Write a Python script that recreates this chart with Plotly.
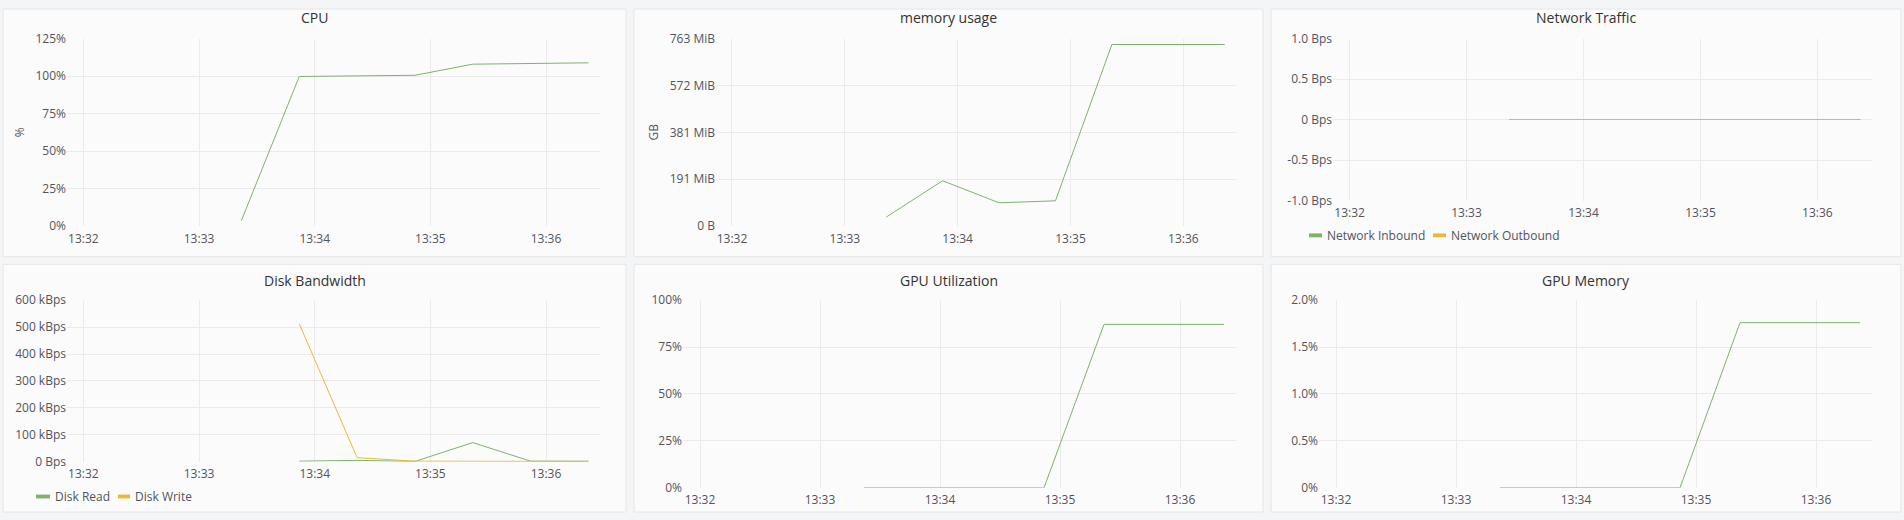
import plotly.graph_objects as go

W, H = 1904, 520
DAY = "2024-01-01 "

# ---------------- data ----------------
times = ["13:33:22", "13:33:52", "13:34:22", "13:34:52", "13:35:22", "13:35:52", "13:36:22"]
disk_times = ["13:33:52", "13:34:22", "13:34:52", "13:35:22", "13:35:52", "13:36:22"]

cpu_pct = [3.8, 99.7, 100.1, 100.5, 107.9, 108.5, 108.8]
mem_mib = [36.7, 184.6, 95.0, 103.0, 738.5, 738.5, 738.5]
net_in = [0, 0, 0, 0, 0, 0, 0]
net_out = [0, 0, 0, 0, 0, 0, 0]
disk_read_kbps = [2, 5, 1, 71, 2, 2]
disk_write_kbps = [512, 15, 2, 1, 1, 1]
gpu_util_pct = [0, 0, 0, 0, 87.1, 87.1, 87.1]
gpu_mem_pct = [0, 0, 0, 0, 1.76, 1.76, 1.76]

x_tick_labels = ["13:32", "13:33", "13:34", "13:35", "13:36"]
cpu_ticks = [0, 25, 50, 75, 100, 125]
cpu_tick_labels = ["0%", "25%", "50%", "75%", "100%", "125%"]
mem_ticks = [0, 190.73, 381.47, 572.2, 762.94]
mem_tick_labels = ["0 B", "191 MiB", "381 MiB", "572 MiB", "763 MiB"]
net_ticks = [-1, -0.5, 0, 0.5, 1]
net_tick_labels = ["-1.0 Bps", "-0.5 Bps", "0 Bps", "0.5 Bps", "1.0 Bps"]
disk_ticks = [0, 100, 200, 300, 400, 500, 600]
disk_tick_labels = ["0 Bps", "100 kBps", "200 kBps", "300 kBps", "400 kBps", "500 kBps", "600 kBps"]
gpu_ticks = [0, 25, 50, 75, 100]
gpu_tick_labels = ["0%", "25%", "50%", "75%", "100%"]
gmem_ticks = [0, 0.5, 1.0, 1.5, 2.0]
gmem_tick_labels = ["0%", "0.5%", "1.0%", "1.5%", "2.0%"]

titles = ["CPU", "memory usage", "Network Traffic", "Disk Bandwidth", "GPU Utilization", "GPU Memory"]

GREEN = "#7eb26d"
YELLOW = "#eab839"
TEXT = "#52545c"
GRID = "#ebebeb"
FONT = "Open Sans"

x_range = [DAY + "13:31:51.5", DAY + "13:36:28"]
x_tickvals = [DAY + t for t in x_tick_labels]

def ts(lst):
    return [DAY + t for t in lst]

# plot areas in pixels: (x0, x1, y0_top, y1_bottom)
areas = [
    (67, 600, 30.5, 224.5),
    (716, 1236, 30.5, 224.5),
    (1333, 1872, 30.5, 198),
    (67, 600, 301, 468),
    (683, 1236, 301, 495),
    (1319, 1872, 301, 495),
]
panels = [
    (3, 626, 0, 256), (634, 1263, 0, 256), (1271, 1901, 0, 256),
    (3, 626, 264, 520), (634, 1263, 264, 520), (1271, 1901, 264, 520),
]
title_y = [8.5, 8.5, 8.5, 281, 281, 281]

fig = go.Figure()

def add(i, x, y, color, name):
    sfx = "" if i == 0 else str(i + 1)
    fig.add_trace(go.Scatter(
        x=ts(x), y=y, mode="lines", name=name,
        line=dict(color=color, width=1),
        xaxis="x" + sfx, yaxis="y" + sfx, showlegend=False,
    ))

add(0, times, cpu_pct, GREEN, "CPU")
add(1, times, mem_mib, GREEN, "memory")
add(2, times, net_in, GREEN, "Network Inbound")
add(2, times, net_out, YELLOW, "Network Outbound")
add(3, disk_times, disk_read_kbps, GREEN, "Disk Read")
add(3, disk_times, disk_write_kbps, YELLOW, "Disk Write")
add(4, times, gpu_util_pct, GREEN, "GPU Utilization")
add(5, times, gpu_mem_pct, GREEN, "GPU Memory")

yspecs = [
    ([0, 125], cpu_ticks, cpu_tick_labels, "%"),
    ([0, 762.94], mem_ticks, mem_tick_labels, "GB"),
    ([-1, 1], net_ticks, net_tick_labels, None),
    ([0, 600], disk_ticks, disk_tick_labels, None),
    ([0, 100], gpu_ticks, gpu_tick_labels, None),
    ([0, 2], gmem_ticks, gmem_tick_labels, None),
]

layout = dict(
    width=W, height=H,
    margin=dict(l=0, r=0, t=0, b=0),
    paper_bgcolor="#f4f5f7",
    plot_bgcolor="rgba(0,0,0,0)",
    font=dict(family=FONT, size=12, color=TEXT),
    showlegend=False,
    shapes=[], annotations=[],
)

for i, ((x0, x1, y0, y1), (yr, tv, tt, ttl)) in enumerate(zip(areas, yspecs)):
    sfx = "" if i == 0 else str(i + 1)
    layout["xaxis" + sfx] = dict(
        domain=[x0 / W, x1 / W], anchor="y" + sfx, type="date",
        range=x_range, tickvals=x_tickvals, ticktext=x_tick_labels,
        showgrid=True, gridcolor=GRID, gridwidth=1, zeroline=False, showline=False,
        ticks="outside", ticklen=1, tickcolor="rgba(0,0,0,0)",
        tickfont=dict(size=12, color=TEXT, family=FONT), fixedrange=True,
    )
    ya = dict(
        domain=[1 - y1 / H, 1 - y0 / H], anchor="x" + sfx,
        range=yr, tickvals=tv, ticktext=tt,
        showgrid=True, gridcolor=GRID, gridwidth=1, zeroline=False, showline=False,
        ticks="",
        tickfont=dict(size=12, color=TEXT, family=FONT), fixedrange=True,
    )
    if ttl:
        ya["title"] = dict(text=ttl, font=dict(size=12, color=TEXT, family=FONT), standoff=8)
    layout["yaxis" + sfx] = ya

for i, (px0, px1, py0, py1) in enumerate(panels):
    layout["shapes"].append(dict(
        type="rect", xref="paper", yref="paper", layer="below",
        x0=px0 / W, x1=px1 / W, y0=1 - py1 / H, y1=1 - py0 / H,
        fillcolor="#fbfbfb", line=dict(color="#e6e6e6", width=1),
    ))
    layout["annotations"].append(dict(
        text=titles[i], xref="paper", yref="paper",
        x=(px0 + px1) / 2 / W, y=1 - title_y[i] / H,
        xanchor="center", yanchor="middle", showarrow=False,
        font=dict(size=14, color="#333333", family=FONT),
    ))

# legends (swatch + label)
legend_items = [
    (1309, 1322, 234, "Network Inbound", GREEN),
    (1433, 1446, 234, "Network Outbound", YELLOW),
    (36, 50, 504, "Disk Read", GREEN),
    (118, 130, 504, "Disk Write", YELLOW),
]
for (lx0, lx1, ly, label, col) in legend_items:
    layout["shapes"].append(dict(
        type="rect", xref="paper", yref="paper",
        x0=lx0 / W, x1=lx1 / W, y0=1 - (ly + 2) / H, y1=1 - (ly - 2) / H,
        fillcolor=col, line=dict(width=0),
    ))
    layout["annotations"].append(dict(
        text=label, xref="paper", yref="paper",
        x=(lx1 + 3) / W, y=1 - ly / H, xanchor="left", yanchor="middle",
        showarrow=False, font=dict(size=12, color=TEXT, family=FONT),
    ))

fig.update_layout(**layout)

post = (
    "document.documentElement.style.margin='0';"
    "document.body.style.margin='0';"
    "document.documentElement.style.overflow='hidden';"
    "var d=document.getElementById('{plot_id}');"
    "d.style.position='fixed';d.style.top='0px';d.style.left='0px';"
)
fig.write_html("out.html", config={"displayModeBar": False}, post_script=post)
